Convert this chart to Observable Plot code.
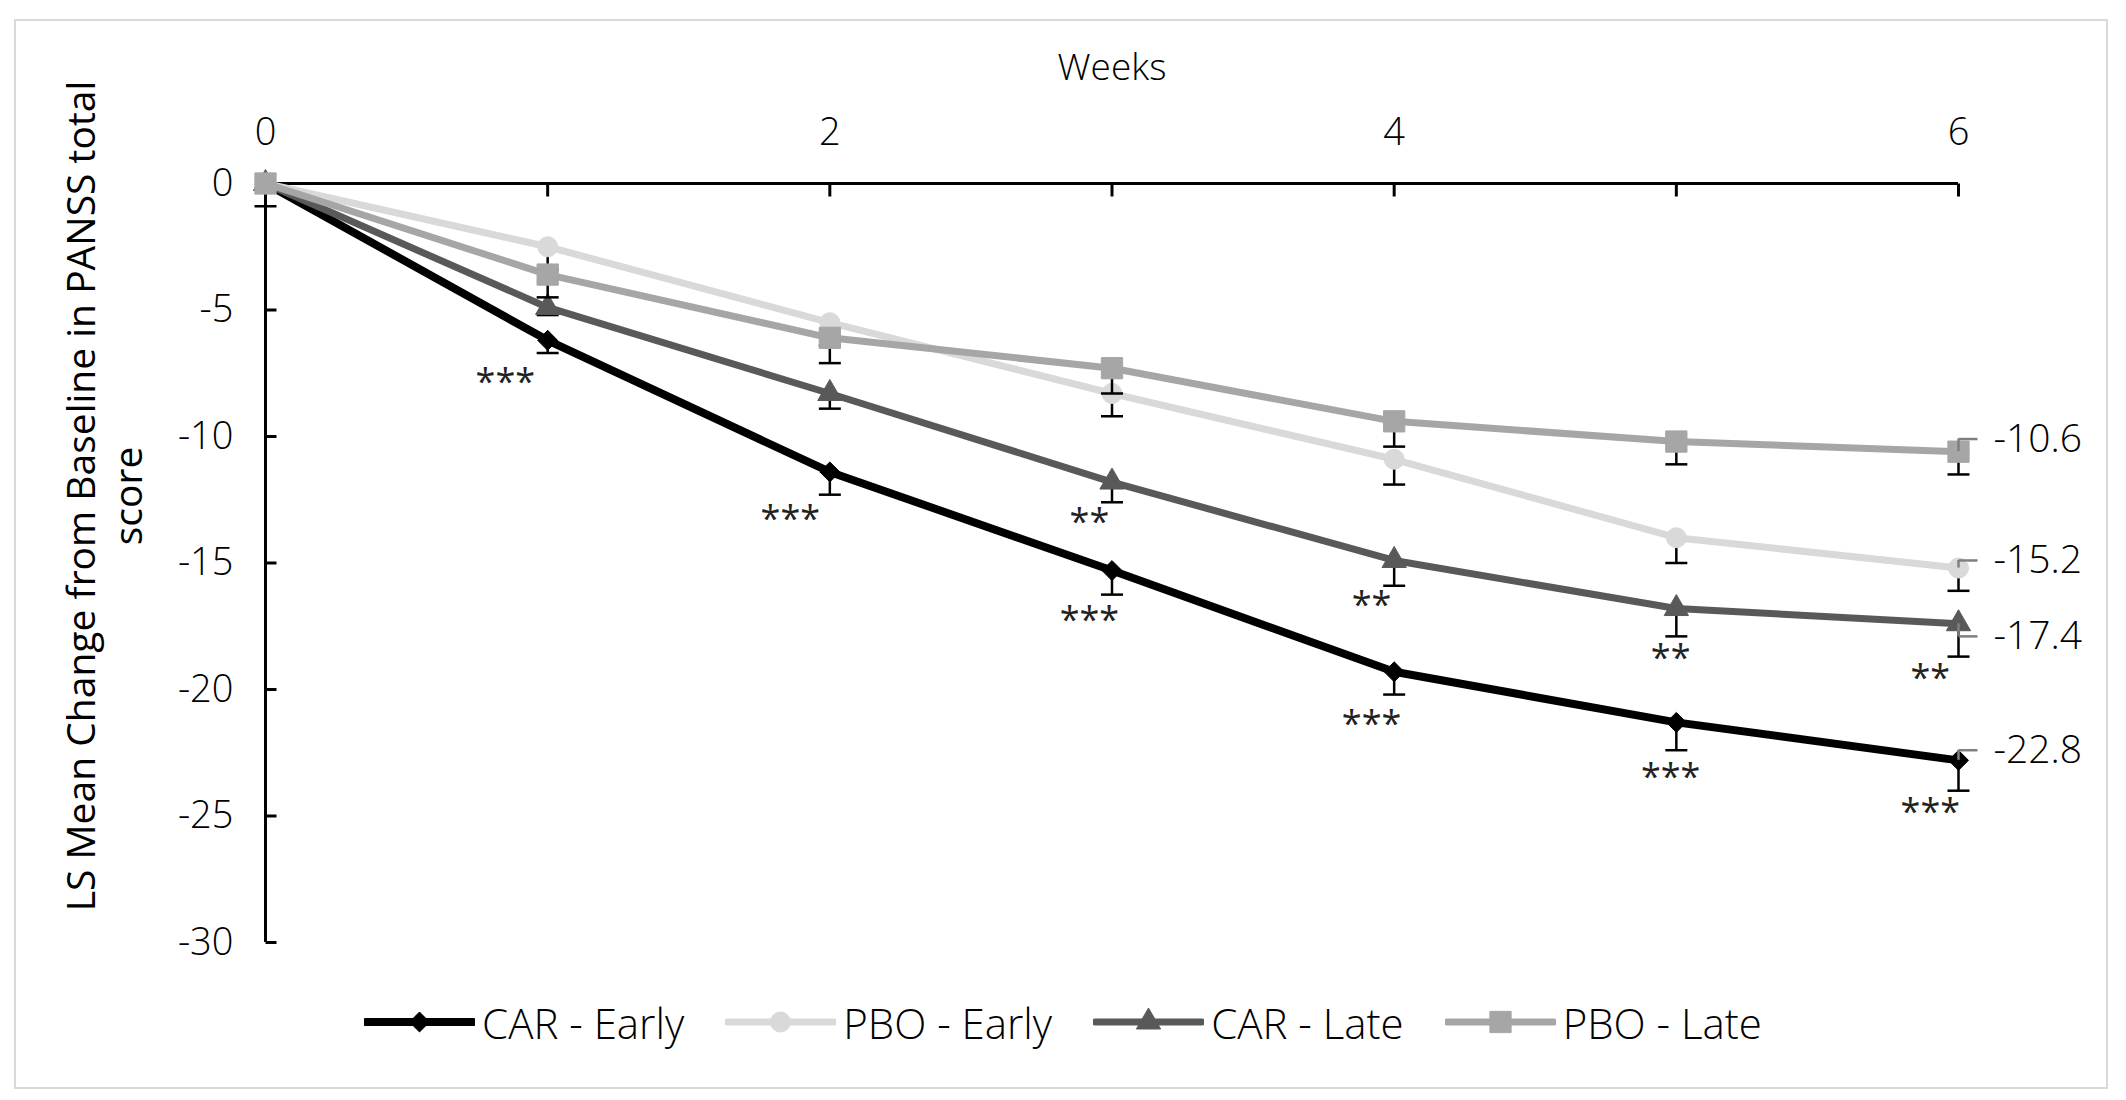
<!DOCTYPE html>
<html><head><meta charset="utf-8">
<script src="https://cdn.jsdelivr.net/npm/d3@7"></script>
<script src="https://cdn.jsdelivr.net/npm/@observablehq/plot@0.6"></script>
<style>
html,body{margin:0;padding:0;background:#fff;}
body{width:2126px;height:1100px;position:relative;overflow:hidden;font-family:"Open Sans",sans-serif;font-weight:300;}
#frame{position:absolute;left:14px;top:19px;width:2094px;height:1070px;border:2px solid #d9d9d9;box-sizing:border-box;}
#chart{position:absolute;left:0;top:0;}
#legend{position:absolute;left:0;top:994px;width:2126px;height:56px;display:flex;justify-content:center;align-items:center;gap:41px;font-size:42px;color:#000;}
#legend .item{display:flex;align-items:center;gap:7px;}
#legend svg{display:block;}
</style></head>
<body>
<div id="frame"></div>
<div id="chart"></div>
<div id="legend"></div>
<script>
// ---- data ----
const weeks = [0, 1, 2, 3, 4, 5, 6];
const seriesNames = ["CAR - Early", "PBO - Early", "CAR - Late", "PBO - Late"];
const carEarly = [0, -6.2, -11.4, -15.3, -19.3, -21.3, -22.8];
const pboEarly = [0, -2.5, -5.5, -8.3, -10.9, -14.0, -15.2];
const carLate  = [0, -4.9, -8.3, -11.8, -14.9, -16.8, -17.4];
const pboLate  = [0, -3.6, -6.1, -7.3, -9.4, -10.2, -10.6];
// downward error bars (SE)
const carEarlySE = [0.9, 0.5, 0.9, 0.95, 0.9, 1.1, 1.2];
const pboEarlySE = [0, 0.9, 0.9, 0.9, 1.0, 1.0, 0.9];
const carLateSE  = [0, 0.3, 0.6, 0.8, 1.0, 1.1, 1.3];
const pboLateSE  = [0, 0.9, 1.0, 1.0, 1.0, 0.9, 0.9];
// end-of-line value labels
const endLabels = ["-22.8", "-15.2", "-17.4", "-10.6"];
const endLabelY = [-22.4, -14.9, -17.9, -10.1];
// significance annotations
const sigX    = [0.85, 1.86, 2.92, 3.92, 4.98, 5.9, 2.92, 3.92, 4.98, 5.9];
const sigY    = [-7.8, -13.2, -17.2, -21.3, -23.4, -24.8, -13.3, -16.6, -18.7, -19.5];
const sigText = ["***", "***", "***", "***", "***", "***", "**", "**", "**", "**"];
// axes
const xTicks = [0, 1, 2, 3, 4, 5, 6];
const xTickLabels = [0, 2, 4, 6];
const yTicks = [0, -5, -10, -15, -20, -25, -30];
const xTitle = "Weeks";
const yTitle = "LS Mean Change from Baseline in PANSS total\nscore";

// ---- styling ----
const colors = ["#000000", "#d9d9d9", "#595959", "#a6a6a6"];
const symbols = ["diamond2", "circle", "triangle", "square"];
const radii = [9, 10, 9, 12];
const lineWidths = [8, 7, 7, 7];
const values = [carEarly, pboEarly, carLate, pboLate];
const ses = [carEarlySE, pboEarlySE, carLateSE, pboLateSE];

const rows = [];
seriesNames.forEach((s, i) => weeks.forEach((w, j) => rows.push({series: s, idx: i, week: w, value: values[i][j], se: ses[i][j]})));

// custom line symbols
const rr = size => Math.sqrt(size / Math.PI);
const hCap = {draw(ctx, size) { const r = rr(size); ctx.moveTo(-r, 0); ctx.lineTo(r, 0); }};
const rightTick = {draw(ctx, size) { const r = rr(size); ctx.moveTo(0, 0); ctx.lineTo(r, 0); }};
const downTick = {draw(ctx, size) { const r = rr(size); ctx.moveTo(0, 0); ctx.lineTo(0, r); }};

const marks = [];
// axes lines and ticks
marks.push(Plot.ruleY([0], {stroke: "#000", strokeWidth: 3}));
marks.push(Plot.ruleX([0], {stroke: "#000", strokeWidth: 3}));
marks.push(Plot.dot(xTicks, {x: d => d, y: 0, symbol: downTick, r: 13, fill: "none", stroke: "#000", strokeWidth: 3}));
marks.push(Plot.dot(yTicks, {x: 0, y: d => d, symbol: rightTick, r: 11, fill: "none", stroke: "#000", strokeWidth: 3}));
marks.push(Plot.text(xTickLabels, {x: d => d, frameAnchor: "top", dy: -65, text: d => String(d), fontSize: 38}));
marks.push(Plot.text(yTicks, {y: d => d, frameAnchor: "left", dx: -32, textAnchor: "end", text: d => String(d), fontSize: 38}));
marks.push(Plot.text([xTitle], {frameAnchor: "top", dy: -130, text: d => d, fontSize: 37}));
marks.push(Plot.text([yTitle], {frameAnchor: "left", textAnchor: "middle", dx: -162, dy: -67, rotate: -90, text: d => d, fontSize: 39, fontWeight: 400, lineHeight: 1.2}));

// series
seriesNames.forEach((s, i) => {
  const data = rows.filter(r => r.idx === i);
  const eb = data.filter(r => r.se > 0);
  marks.push(Plot.line(data, {x: "week", y: "value", stroke: colors[i], strokeWidth: lineWidths[i], strokeLinejoin: "round"}));
  marks.push(Plot.ruleX(eb, {x: "week", y1: "value", y2: d => d.value - d.se, stroke: "#000", strokeWidth: 2.5}));
  marks.push(Plot.dot(eb, {x: "week", y: d => d.value - d.se, symbol: hCap, r: 11, fill: "none", stroke: "#000", strokeWidth: 2.5}));
  marks.push(Plot.dot(data, {x: "week", y: "value", symbol: symbols[i], r: radii[i], fill: colors[i], stroke: colors[i], strokeWidth: 1}));
});

// end labels with leader lines
const endRows = seriesNames.map((s, i) => ({value: values[i][6], ly: endLabelY[i], label: endLabels[i]}));
marks.push(Plot.ruleX(endRows, {x: 6, y1: "value", y2: "ly", stroke: "#7f7f7f", strokeWidth: 2.5}));
marks.push(Plot.dot(endRows, {x: 6, y: "ly", symbol: rightTick, r: 19, fill: "none", stroke: "#7f7f7f", strokeWidth: 2.5}));
marks.push(Plot.text(endRows, {x: 6, y: "ly", text: "label", dx: 35, textAnchor: "start", fontSize: 39}));

// significance
const sigRows = sigX.map((x, i) => ({x, y: sigY[i], t: sigText[i]}));
marks.push(Plot.text(sigRows, {x: "x", y: "y", text: "t", fontSize: 36, fontWeight: 400, dy: 2, fill: "#222"}));

const chart = Plot.plot({
  width: 2126, height: 980,
  marginLeft: 265, marginRight: 168, marginTop: 183, marginBottom: 38,
  x: {domain: [0, 6], axis: null},
  y: {domain: [-30, 0], axis: null},
  style: {fontFamily: "Open Sans", fontWeight: 300, background: "transparent", overflow: "visible", color: "#000"},
  marks
});
document.getElementById("chart").appendChild(chart);

// legend
const legend = d3.select("#legend");
seriesNames.forEach((s, i) => {
  const item = legend.append("div").attr("class", "item");
  const svg = item.append("svg").attr("width", 111).attr("height", 40);
  svg.append("line").attr("x1", 2).attr("x2", 109).attr("y1", 20).attr("y2", 20)
    .attr("stroke", colors[i]).attr("stroke-width", lineWidths[i]).attr("stroke-linecap", "round");
  const symType = {diamond2: d3.symbolDiamond2, circle: d3.symbolCircle, triangle: d3.symbolTriangle, square: d3.symbolSquare}[symbols[i]];
  svg.append("path").attr("transform", "translate(55.5,20)")
    .attr("d", d3.symbol(symType, Math.PI * radii[i] * radii[i])())
    .attr("fill", colors[i]).attr("stroke", colors[i]);
  item.append("span").text(s);
});
</script>
</body></html>
